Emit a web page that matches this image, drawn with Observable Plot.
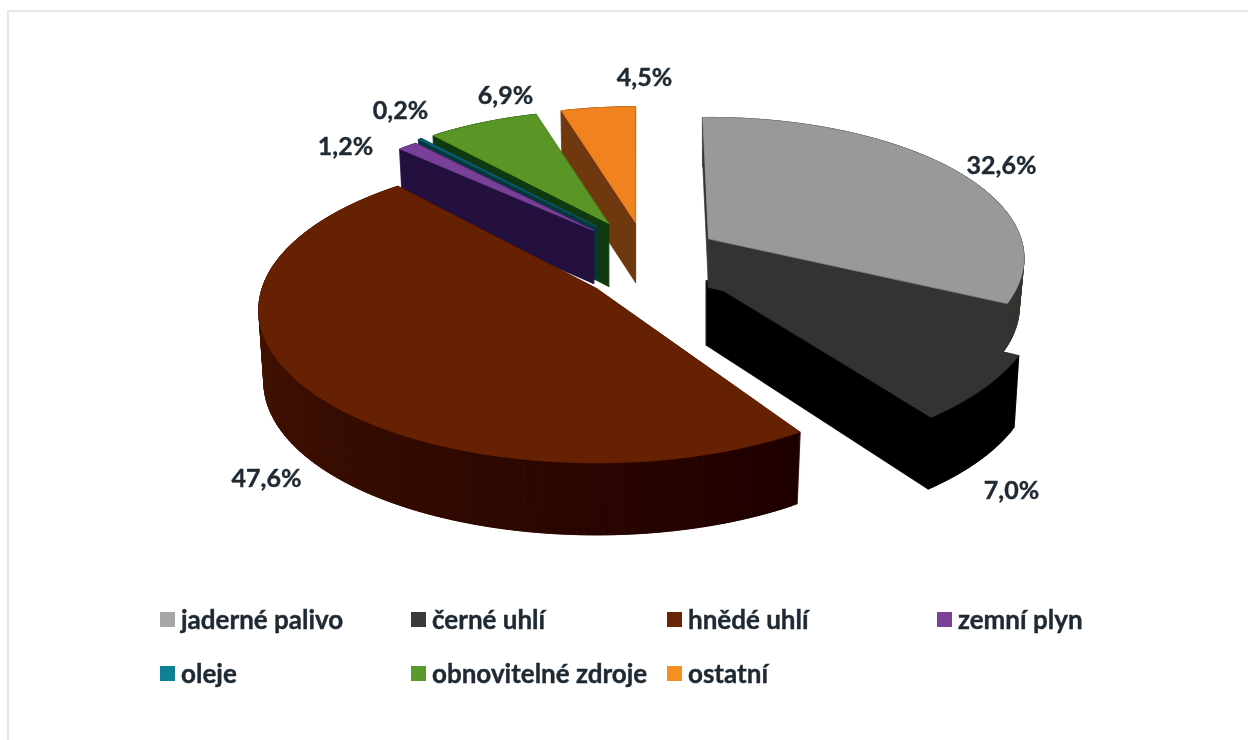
<!DOCTYPE html>
<html lang="cs">
<head>
<meta charset="utf-8">
<script src="https://cdn.jsdelivr.net/npm/d3@7"></script>
<script src="https://cdn.jsdelivr.net/npm/@observablehq/plot@0.6"></script>
<style>
  html, body { margin: 0; padding: 0; background: #fff; }
  body { width: 1248px; height: 740px; overflow: hidden; position: relative; font-family: Lato, sans-serif; }
  #frame { position: absolute; left: 7px; top: 10px; right: 0; bottom: 0; border-top: 2px solid #e6e6e6; border-left: 2px solid #e6e6e6; pointer-events: none; }
  #chart { position: absolute; left: 0; top: 0; filter: blur(0.6px); }
  #chart svg { display: block; }
  #legend { position: absolute; left: 0; top: 592px; width: 1248px; height: 108px; filter: blur(0.5px); }
  .item { position: absolute; display: flex; align-items: center; height: 54px; font: 700 26px Lato, sans-serif; color: #1e2933; white-space: nowrap; -webkit-text-stroke: 0.4px #1e2933; }
  .item i { display: block; width: 15px; height: 15px; margin-right: 6px; }
</style>
</head>
<body>
<div id="frame"></div>
<div id="chart"></div>
<div id="legend"></div>
<script>
// ---- data ----
const categories = ["jaderné palivo", "černé uhlí", "hnědé uhlí", "zemní plyn", "oleje", "obnovitelné zdroje", "ostatní"];
const shares = [32.6, 7.0, 47.6, 1.2, 0.2, 6.9, 4.5];
const topColors = ["#979a99", "#333431", "#662102", "#7a3f98", "#0c5f70", "#5a9626", "#f0831f"];
const legendColors = ["#a6a6a6", "#3a3a3a", "#6b2306", "#7b3f98", "#0f7f94", "#5a9a2c", "#f39020"];

// ---- layout of the exploded 3-D pie ----
const H = 595, F = 343, G = 150, K = 0.14;
const tipX   = [708, 706, 596, 593, 596, 608, 635];
const tipY   = [238, 280, 288, 230, 226, 223, 222];
const scales = [0.92, 1.02, 1, 0.86, 0.86, 0.86, 0.88];
const xScales = [0.99, 0.94, 0.975, 1, 1, 1, 1];
const rots   = [-1.2, 0, 5, 0, 0, 0, 0];
const depths = [49, 72, 72, 53, 53, 63, 60];
const tipDepths = [49, 65, 72, 53, 53, 63, 60];
const wallFrom = ["#333431", "#000000", "#571d02", "#23103f", "#093440", "#0f3a10", "#70380f"];
const wallTo   = ["#333431", "#000000", "#1f0000", "#23103f", "#093440", "#0f3a10", "#70380f"];
const drawOrder = [6, 5, 4, 3, 2, 1, 0];
const labelX = [1001, 1011, 266, 345, 400, 505, 644];
const labelY = [165, 490, 478, 146, 110, 95, 77];
const legendX = [160, 411, 667, 937, 160, 411, 667];
const legendRow = [0, 0, 0, 0, 1, 1, 1];
const BOTTOM_SHRINK = 0.985;

// angles come from the shares only
const total = d3.sum(shares);
const cum = d3.cumsum(shares);
const spans = shares.map((v, i) => [(i ? cum[i - 1] : 0) / total * 360, cum[i] / total * 360]);

function rim(i, deg) {
  const a = (deg + rots[i]) * Math.PI / 180;
  const X = Math.sin(a), Y = Math.cos(a), s = 1 / (1 + K * Y);
  return [F * scales[i] * xScales[i] * X * s, -G * scales[i] * Y * s];
}
const top3 = (i, p) => [tipX[i] + p[0], tipY[i] + p[1]];
const bot3 = (i, p) => [tipX[i] + p[0] * BOTTOM_SHRINK, tipY[i] + p[1] + depths[i]];
const tipTop = i => [tipX[i], tipY[i]];
const tipBot = i => [tipX[i], tipY[i] + tipDepths[i]];

const polys = [];
let nid = 0;
function poly(pts, color) {
  const id = nid++;
  for (const [x, y] of pts) polys.push({id, x, y, color});
}
for (const i of drawOrder) {
  const [a0, a1] = spans[i];
  const steps = Math.max(2, Math.ceil(a1 - a0));
  const angs = d3.range(steps + 1).map(k => a0 + (a1 - a0) * k / steps);
  const col = d3.interpolateRgb(wallFrom[i], wallTo[i]);
  const start = rim(i, a0), end = rim(i, a1);
  // cut faces
  poly([tipTop(i), top3(i, start), bot3(i, start), tipBot(i)], wallFrom[i]);
  poly([tipTop(i), top3(i, end), bot3(i, end), tipBot(i)], wallTo[i]);
  // outer wall, in overlapping strips (shading runs from left to right on the front)
  for (let k = steps - 1; k >= 0; k--) {
    const p = rim(i, angs[k]), q = rim(i, angs[Math.min(k + 2, steps)]);
    const t = wallFrom[i] === wallTo[i] ? 0 : 1 - (angs[k] - a0) / (a1 - a0);
    poly([top3(i, p), top3(i, q), bot3(i, q), bot3(i, p)], col(t));
  }
  // top surface
  poly([tipTop(i), ...angs.map(d => top3(i, rim(i, d)))], topColors[i]);
}

const labels = shares.map((v, i) => ({
  x: labelX[i], y: labelY[i],
  text: v.toFixed(1).replace(".", ",") + "%"
}));

const chart = Plot.plot({
  width: 1248,
  height: H,
  margin: 0,
  x: {domain: [0, 1248], axis: null},
  y: {domain: [H, 0], axis: null},
  color: {type: "identity"},
  style: {background: "transparent"},
  marks: [
    Plot.line(polys, {x: "x", y: "y", z: "id", fill: "color", stroke: "color", strokeWidth: 0.7, curve: "linear-closed"}),
    Plot.text(labels, {x: "x", y: "y", text: "text", fill: "#1e2933", stroke: "#1e2933", strokeWidth: 0.4, fontSize: 25, fontWeight: 700, fontFamily: "Lato, sans-serif"})
  ]
});
document.getElementById("chart").append(chart);

const legend = d3.select("#legend");
categories.forEach((c, i) => {
  const item = legend.append("div").attr("class", "item")
    .style("left", legendX[i] + "px").style("top", legendRow[i] * 54 + "px");
  item.append("i").style("background", legendColors[i]);
  item.append("span").text(c);
});
</script>
</body>
</html>
